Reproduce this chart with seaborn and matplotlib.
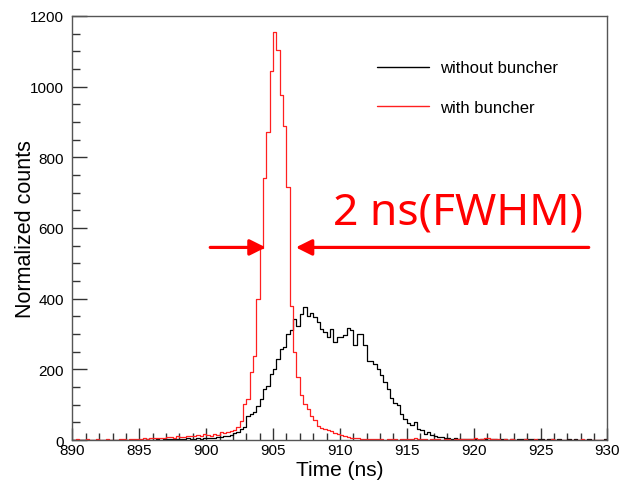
import numpy as np
import pandas as pd
import matplotlib
matplotlib.use("Agg")
import matplotlib.pyplot as plt
from matplotlib.lines import Line2D
from matplotlib.ticker import MultipleLocator
import seaborn as sns

# histogram binning (ns)
t_start = 890.0
bin_width = 0.25

# counts per 0.25 ns bin, 890 -> 930 ns
without_buncher = (
    [0, 1, 0, 0, 1, 0, 0, 1, 0, 0, 1, 0, 0, 1, 0, 1, 0, 0, 1, 1]        # 890-894.75
    + [1, 0, 2, 1, 1, 2, 1, 3, 2, 2, 3, 2, 4, 3, 5, 4]                 # 895-898.75
    + [4, 5, 3, 6, 5, 7, 6, 9, 8, 10, 12, 15]                          # 899-901.75
    + [20, 23, 30, 37, 69, 74, 79, 97, 116, 145, 154, 187]             # 902-904.75
    + [201, 230, 258, 264, 300, 310, 343, 324, 357, 377, 352, 360]     # 905-907.75
    + [349, 335, 315, 306, 292, 315, 278, 292, 292, 296, 318, 310]     # 908-910.75
    + [270, 301, 301, 268, 225, 223, 214, 200, 185, 165, 145, 120]     # 911-913.75
    + [106, 100, 75, 60, 48, 42, 50, 30, 28, 18, 22, 14]               # 914-916.75
    + [12, 9, 8, 6, 5, 4, 5, 3]                                        # 917-918.75
    + [3, 2, 3, 2, 2, 1, 3, 2, 1, 2, 2, 1, 2, 3, 1, 2, 1, 2, 4, 2, 3, 2]
    + [1, 2, 2, 1, 3, 2, 1, 2, 1, 1, 2, 1, 2, 1, 0, 1, 2, 1, 1, 0, 1, 2]  # 919-929.75
)

with_buncher = (
    [1, 2, 0, 1, 3, 1, 0, 2, 1, 0, 2, 1, 1, 0, 3, 2, 1, 2, 3, 2]        # 890-894.75
    + [4, 5, 3, 6, 5, 7, 6, 5, 8, 9, 7, 10, 9, 8, 11, 10]              # 895-898.75
    + [12, 14, 11, 17, 13, 12, 16, 14, 22, 20, 24, 25]                 # 899-901.75
    + [29, 38, 55, 102, 116, 193, 239, 400, 542, 742, 873, 1045]       # 902-904.75
    + [1155, 1104, 977, 889, 717, 380, 250, 179, 126, 102, 88, 69]     # 905-907.75
    + [57, 41, 34, 31, 28, 26, 20, 17, 14, 12, 9, 7]                   # 908-910.75
    + [6, 5, 4, 4]                                                     # 911-911.75
    + [3, 2, 4, 2, 3, 1, 2, 3, 2, 1, 2, 3]                             # 912-914.75
    + [2, 4, 5, 3, 2, 3, 1, 2, 3, 2, 1, 2]                             # 915-917.75
    + [2, 1, 3, 2, 2, 3, 4, 3, 5, 4, 3, 5]                             # 918-920.75
    + [6, 4, 3, 2, 1, 2, 1, 2, 1, 0, 1, 2]                             # 921-923.75
    + [1, 0, 2, 1, 1, 0, 1, 2, 0, 1, 0, 1]                             # 924-926.75
    + [0, 1, 0, 1, 2, 0, 1, 0, 1, 0, 0, 1]                             # 927-929.75
)

series_names = ["without buncher", "with buncher"]
series_colors = ["black", "#ff2020"]

n_bins = len(with_buncher)
t_end = t_start + bin_width * n_bins
centers = t_start + bin_width * (np.arange(n_bins) + 0.5)

df = pd.DataFrame({
    "time": np.concatenate([centers, centers]),
    "counts": without_buncher + with_buncher,
    "setup": [series_names[0]] * n_bins + [series_names[1]] * n_bins,
})

sns.set_style("white")
plt.rcParams["font.family"] = ["Liberation Sans", "DejaVu Sans"]
plt.rcParams["text.color"] = "black"
plt.rcParams["axes.labelcolor"] = "black"

fig = plt.figure(figsize=(6.21, 4.85), dpi=100)
ax = fig.add_axes([0.1167, 0.0907, 0.8615, 0.8743])

for name, color in zip(series_names, series_colors):
    sns.histplot(data=df[df["setup"] == name], x="time", weights="counts",
                 bins=n_bins, binrange=(t_start, t_end), element="step",
                 fill=False, color=color, linewidth=0.9, ax=ax)

ax.set_xlim(890, 930)
ax.set_ylim(0, 1200)
ax.xaxis.set_major_locator(MultipleLocator(5))
ax.xaxis.set_minor_locator(MultipleLocator(1))
ax.yaxis.set_major_locator(MultipleLocator(200))
ax.yaxis.set_minor_locator(MultipleLocator(50))
ax.tick_params(which="both", direction="in", bottom=True, left=True,
               top=False, right=False, color="#333333", labelcolor="black",
               labelsize=11)
ax.tick_params(axis="x", which="major", length=9, width=1, pad=2)
ax.tick_params(axis="x", which="minor", length=5, width=1)
ax.tick_params(axis="y", which="major", length=11, width=1, pad=6)
ax.tick_params(axis="y", which="minor", length=6, width=1)
for s in ax.spines.values():
    s.set_color("#555555")
    s.set_linewidth(1)

ax.set_xlabel("Time (ns)", fontsize=15, labelpad=2)
ax.set_ylabel("Normalized counts", fontsize=15.5, labelpad=-4)

handles = [Line2D([], [], color=c, lw=1) for c in series_colors]
ax.legend(handles, series_names, loc="upper left", bbox_to_anchor=(0.569, 0.895),
          frameon=False, fontsize=12, handlelength=3.1, handletextpad=0.7,
          labelspacing=1.45, borderpad=0, borderaxespad=0)

# FWHM arrows
arrow_kw = dict(arrowstyle="-|>", color="red", lw=2.3, mutation_scale=24,
                shrinkA=0, shrinkB=0)
ax.annotate("", xy=(904.45, 545), xytext=(900.3, 545), arrowprops=arrow_kw)
ax.annotate("", xy=(906.7, 545), xytext=(928.6, 545), arrowprops=arrow_kw)
ax.text(918.8, 644, "2 ns(FWHM)", color="red", fontsize=32,
        family=["Noto Sans", "DejaVu Sans"], ha="center", va="center")

fig.savefig("out.png", dpi=100)
